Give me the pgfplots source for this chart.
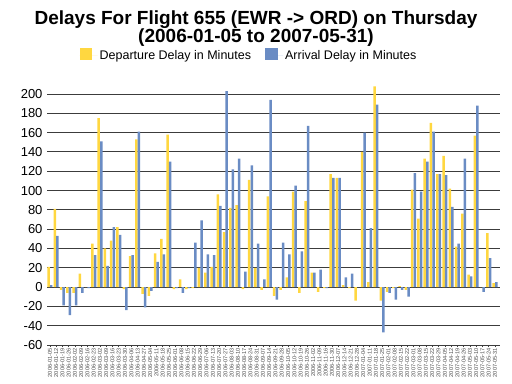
\documentclass[border=0pt]{standalone}
\usepackage{fontspec}
\setmainfont{Liberation Sans}
\usepackage{pgfplots}
\usepackage{pgfplotstable}
\pgfplotsset{compat=1.18}
\definecolor{depc}{HTML}{FFD740}
\definecolor{arrc}{HTML}{6A8CC4}
\definecolor{gridc}{HTML}{3C3C3C}
\pgfplotstableread{
idx dep arr
0 21 2
1 81 53
2 -3 -19
3 -6 -29
4 -6 -19
5 14 -6
6 0 -1
7 45 33
8 175 151
9 40 22
10 48 62
11 62 54
12 -2 -24
13 32 33
14 153 161
15 -7 -21
16 -9 -4
17 35 26
18 50 34
19 158 130
20 -2 -1
21 8 -6
22 -2 -1
23 -1 46
24 20 69
25 15 34
26 21 33
27 96 84
28 57 203
29 82 122
30 85 133
31 -2 16
32 111 126
33 20 45
34 -3 8
35 94 194
36 -9 -13
37 -3 46
38 10 34
39 99 105
40 -6 37
41 89 167
42 15 15
43 -5 18
44 -1 -1
45 117 113
46 113 113
47 2 10
48 -1 14
49 -14 0
50 140 160
51 5 61
52 208 189
53 -14 -47
54 -5 -6
55 -1 -13
56 1 -3
57 -3 -10
58 101 118
59 71 99
60 133 130
61 170 161
62 117 117
63 136 116
64 102 83
65 42 45
66 76 133
67 13 11
68 157 188
69 0 -5
70 56 30
71 4 5
}\delays
\begin{document}
\begin{tikzpicture}
\begin{axis}[
  at={(47bp,39bp)}, anchor=south west,
  scale only axis, width=453bp, height=251bp,
  ybar=0.1bp, bar width=2.5bp,
  xmin=-0.45, xmax=71.8, ymin=-60, ymax=200,
  clip=false,
  axis x line*=bottom, axis y line*=left,
  y axis line style={draw=none},
  x axis line style={gridc, line width=0.9bp},
  ytick={-60,-40,...,200},
  ytick style={draw=none},
  ymajorgrids, grid style={gridc, line width=0.9bp},
  yticklabel style={font=\fontsize{13bp}{13bp}\selectfont, xshift=-1bp},
  /pgf/number format/assume math mode=true,
  xtick={0,...,71},
  xtick align=outside,
  major tick length=2.5bp,
  xtick style={gridc, line width=0.6bp},
  xticklabels={2006-01-05,2006-01-12,2006-01-19,2006-01-26,2006-02-02,2006-02-09,2006-02-16,2006-02-23,2006-03-02,2006-03-09,2006-03-16,2006-03-23,2006-03-30,2006-04-06,2006-04-13,2006-04-27,2006-05-04,2006-05-11,2006-05-18,2006-05-25,2006-06-01,2006-06-08,2006-06-15,2006-06-22,2006-06-29,2006-07-06,2006-07-13,2006-07-20,2006-07-27,2006-08-03,2006-08-10,2006-08-17,2006-08-24,2006-08-31,2006-09-07,2006-09-14,2006-09-21,2006-09-28,2006-10-05,2006-10-12,2006-10-19,2006-10-26,2006-11-02,2006-11-09,2006-11-16,2006-11-30,2006-12-07,2006-12-14,2006-12-21,2006-12-28,2007-01-04,2007-01-11,2007-01-18,2007-01-25,2007-02-01,2007-02-08,2007-02-15,2007-02-22,2007-03-01,2007-03-08,2007-03-15,2007-03-22,2007-03-29,2007-04-05,2007-04-12,2007-04-19,2007-04-26,2007-05-03,2007-05-10,2007-05-17,2007-05-24,2007-05-31},
  xticklabel style={rotate=90, anchor=east, font=\fontsize{5.6bp}{6bp}\selectfont, text=gray!60!black, inner sep=0.8bp},
  legend style={at={(0.446,1.153)}, anchor=center, draw=none, fill=none,
    font=\fontsize{12.5bp}{13bp}\selectfont,
    /tikz/every even column/.append style={column sep=12bp}},
  legend columns=2,
  legend image code/.code={\fill[#1] (0bp,-4bp) rectangle (12.5bp,8bp); \path (0bp,0bp) -- (18bp,0bp);},
]
\addplot[fill=depc, draw=none] table[x=idx, y=dep] {\delays};
\addplot[fill=arrc, draw=none] table[x=idx, y=arr] {\delays};
\legend{Departure Delay in Minutes, Arrival Delay in Minutes}
\end{axis}
\node[anchor=base, font=\fontsize{19bp}{18bp}\bfseries\selectfont] at (256bp,359bp) {Delays For Flight 655 (EWR -> ORD) on Thursday};
\node[anchor=base, font=\fontsize{19bp}{18bp}\bfseries\selectfont] at (256bp,341.5bp) {(2006-01-05 to 2007-05-31)};
\pgfresetboundingbox
\useasboundingbox (0,0) rectangle (512bp,384bp);
\end{tikzpicture}
\end{document}
